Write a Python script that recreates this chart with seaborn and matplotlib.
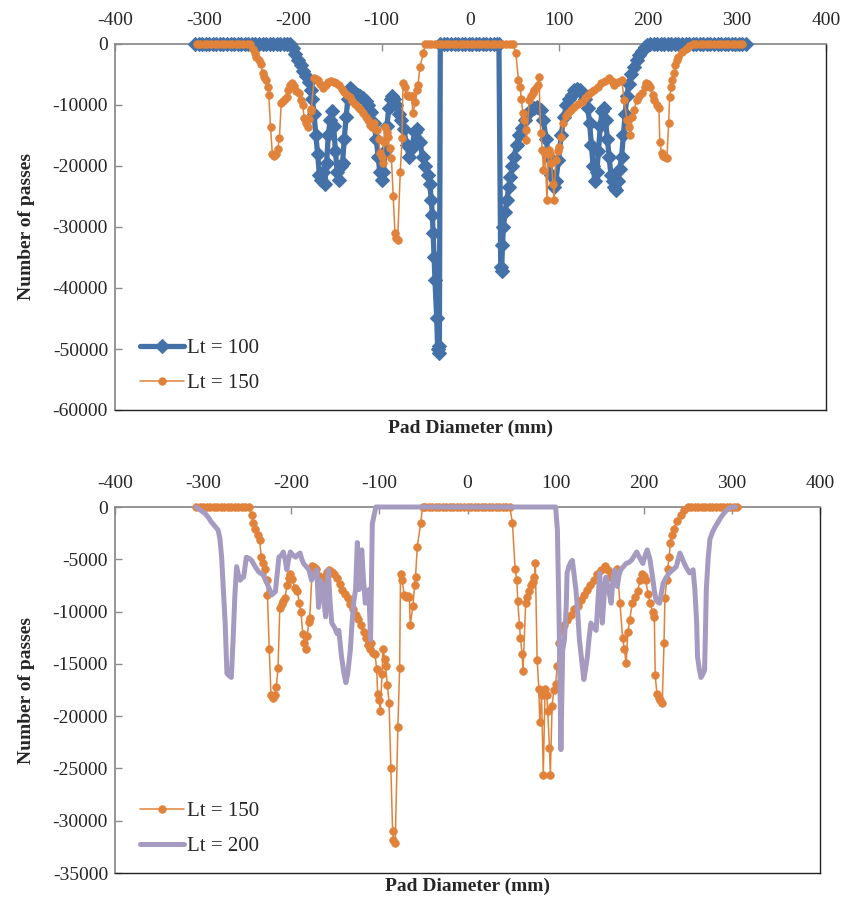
import matplotlib
matplotlib.use("Agg")
import matplotlib.pyplot as plt
import seaborn as sns

# ---- data ----
# Lt = 100 (top panel)
x_lt100 = [-310, -306, -302, -298, -294, -290, -286, -282, -278, -274, -270, -266, -262, -258,
           -254, -250, -246, -242, -238, -234, -230, -226, -222, -218, -214, -210, -206, -203,
           -200, -197, -194, -191, -188, -185, -182, -180, -178, -176, -174, -172, -170, -168,
           -166, -164, -162, -160, -158, -156, -154, -152, -150, -148, -146, -144, -142, -140,
           -138, -136, -133, -130, -127, -124, -121, -118, -115, -112, -109, -106, -104, -102,
           -100, -98, -96, -94, -92, -90, -88, -86, -84, -81, -78, -75, -72, -69, -66, -63,
           -60, -57, -54, -51, -48, -46, -44, -43, -42, -41, -40, -38, -37, -36, -35, -34,
           -30, -26, -22, -18, -14, -10, -6, -2, 2, 6, 10, 14, 18, 22, 26, 30, 32,
           34, 35, 36, 37, 39, 41, 43, 45, 47, 49, 52, 55, 58, 61, 64, 67, 71, 75, 79, 82,
           85, 88, 91, 94, 96, 99, 102, 105, 108, 111, 114, 117, 120, 123, 126, 129, 132,
           134, 136, 138, 140, 142, 144, 146, 148, 150, 152, 154, 156, 158, 160, 162, 164,
           166, 168, 170, 172, 174, 176, 178, 181, 184, 187, 190, 193, 196, 199, 202,
           206, 210, 214, 218, 222, 226, 230, 234, 238, 242, 246, 250, 254, 258, 262, 266,
           270, 274, 278, 282, 286, 290, 294, 298, 302, 306, 310]
y_lt100 = [0] * 28 + [
    -700, -1600, -2600, -3500, -4400, -5300, -6300, -7500, -9000, -11500, -15000, -18000,
    -21500, -22300, -21000, -23000, -19500, -15000, -12500, -11000, -13500, -17500, -21000,
    -22300, -20000, -19500, -15500, -12000, -9000, -7200, -7500, -8000, -8300, -8500, -8800,
    -9300, -10000, -11200, -13000, -15500, -18500, -21000, -22300, -21000, -17500, -13500,
    -10500, -9000, -8500, -9000, -10000, -11500, -12500, -14000, -16500, -18500, -17000,
    -14500, -14000, -16000, -18500, -20000, -21500, -23000, -25500, -28000, -31000, -35000,
    -38700, -45000, -50000, -50700, -49500] + [0] * 18 + [
    -36500, -37200, -33000, -30000, -27500, -25500, -23500, -21800, -20000, -18500, -16500,
    -15000, -13800, -12500, -11500, -11000, -10500, -10300, -10800, -12500, -15500, -18500,
    -21500, -23500, -22500, -19000, -15000, -12000, -10000, -9000, -8300, -7500, -7300,
    -7500, -8000, -9000, -10500, -13000, -16500, -20000, -22500, -21000, -17500, -13500,
    -11000, -10500, -12500, -15500, -18500, -21500, -22500, -23500, -24000, -22500, -20500,
    -18500, -15000, -11500, -8500, -6500, -5000, -3800, -2700, -1800, -1100, -500, -100,
    0] + [0] * 27

# Lt = 150 (both panels)
x_lt150 = [-308, -304, -300, -296, -292, -288, -284, -280, -276, -272, -268, -264, -260, -256,
           -252, -248, -245, -243, -241, -238, -236, -234, -232, -230, -228, -227, -225, -223,
           -221, -219, -217, -215, -213, -211, -209, -207, -205, -203, -201, -199, -196, -193,
           -191, -189, -187, -185, -183, -182, -180, -179, -176, -174, -172, -169, -166, -163,
           -160, -157, -154, -151, -148, -145, -142, -139, -136, -133, -130, -127, -124, -121,
           -118, -115, -113, -111, -109, -107, -105, -103, -102, -100, -99, -97, -96, -94, -93,
           -91, -89, -87, -85, -84, -82, -79, -77, -76, -74, -72, -70, -68, -66, -65, -62, -60,
           -59, -57, -53, -51, -48, -44, -40, -36, -32, -28, -24, -20, -16, -12, -8, -4, 0, 4,
           8, 12, 16, 20, 24, 28, 32, 36, 40, 44, 48, 51, 54, 56, 57, 59, 60, 62, 63, 66, 68,
           70, 72, 74, 76, 77, 79, 81, 82, 84, 86, 88, 90, 91, 93, 94, 96, 98, 100, 102, 104,
           107, 110, 113, 117, 121, 125, 129, 132, 136, 139, 143, 147, 151, 156, 159, 162, 166,
           170, 173, 176, 178, 180, 182, 184, 187, 190, 193, 196, 198, 200, 202, 205, 207, 210,
           212, 213, 215, 217, 219, 221, 223, 224, 226, 227, 229, 230, 232, 234, 238, 242, 246,
           250, 254, 258, 262, 266, 270, 274, 278, 282, 286, 290, 294, 298, 302, 306]
y_lt150 = [0] * 16 + [
    -800, -1500, -2100, -2700, -3200, -4800, -5400, -5900, -7000, -8400, -13600, -18000,
    -18300, -18000, -17200, -15400, -9700, -9300, -9000, -8700, -7500, -6800, -6400, -6900,
    -7700, -8000, -9200, -10000, -12100, -13000, -13600, -12300, -11000, -10600, -5600,
    -5700, -5900, -6600, -7200, -6700, -6200, -6000, -6200, -6400, -6800, -7400, -7900,
    -8300, -8700, -9300, -9800, -10300, -10700, -11300, -12000, -12500, -13200, -13600,
    -13000, -14000, -14100, -15500, -17900, -18500, -19500, -16000, -13600, -14500, -15200,
    -17000, -18700, -25000, -31000, -31800, -32100, -21000, -15400, -6400, -7000, -8400,
    -8600, -8500, -8600, -11300, -9500, -7500, -6700, -3800, -1500] + [0] * 26 + [
    -1500, -5900, -7000, -9000, -11300, -12500, -14100, -15700, -9200, -8600, -8000, -7500,
    -7200, -6700, -5400, -14600, -17400, -20600, -18000, -25600, -17400, -18000, -19500,
    -23000, -25600, -19000, -17500, -16900, -15200, -13000, -11800, -11300, -10800, -10300,
    -9800, -9500, -8900, -8400, -7900, -7500, -7000, -6400, -6000, -5600, -6000, -6700,
    -6300, -5900, -9200, -12500, -13600, -14900, -12000, -10800, -9200, -8600, -8000, -7000,
    -6400, -6600, -7000, -8300, -9200, -10000, -10500, -16100, -17900, -18300, -18500,
    -18700, -13000, -8700, -7000, -5900, -4800, -3400, -2700, -2100, -1300, -800, -300,
    0] + [0] * 14

# Lt = 200 (bottom panel)
x_lt200 = [-308, -303, -298, -294, -291, -287, -283, -281, -279, -277, -275, -273, -271, -268,
           -266, -264, -262, -260, -258, -256, -254, -251, -248, -245, -241, -237, -232, -229,
           -226, -222, -218, -216, -214, -211, -209, -207, -205, -203, -201, -198, -195, -193,
           -190, -188, -186, -183, -180, -177, -174, -171, -169, -167, -165, -163, -161, -159,
           -158, -156, -154, -151, -148, -146, -143, -140, -138, -136, -133, -131, -129, -127,
           -125, -123, -121, -120, -118, -116, -114, -112, -110, -108, -104, -50, 0, 50, 100,
           102, 104, 106, 108, 110, 112, 113, 115, 117, 119, 121, 123, 125, 127, 130, 132, 134,
           136, 138, 140, 143, 146, 148, 150, 152, 153, 155, 157, 160, 163, 165, 167, 170, 172,
           174, 177, 180, 183, 186, 189, 192, 195, 197, 199, 202, 204, 207, 210, 212, 214, 216,
           218, 220, 222, 225, 229, 233, 237, 239, 241, 244, 246, 249, 252, 254, 256, 258, 260,
           261, 263, 265, 267, 269, 270, 271, 273, 275, 278, 281, 284, 286, 290, 294, 297, 300,
           304]
y_lt200 = [0, -300, -600, -1000, -1400, -1800, -2200, -3000, -4800, -8000, -11100, -15900,
           -16100, -16300, -12700, -8500, -5700, -6500, -7000, -6800, -6700, -4800, -4900,
           -5100, -5700, -6200, -6500, -7000, -7600, -8400, -8100, -6500, -4800, -4600, -4300,
           -5000, -6000, -5000, -4300, -4600, -4800, -4600, -4400, -5000, -5400, -5700, -6000,
           -7000, -6500, -6000, -9600, -7000, -7300, -9000, -10500, -7500, -6000, -9000,
           -11100, -11500, -12100, -11800, -14300, -16000, -16800, -16000, -13700, -11100,
           -9000, -7900, -3400, -7900, -5500, -4100, -7000, -9200, -8500, -7900, -12700, -1600,
           0, 0, 0, 0, 0,
           -2200, -11100, -23200, -13700, -12700, -9600, -6300, -5700, -5300, -5100, -6500,
           -7900, -10000, -12700, -15000, -16500, -15500, -14300, -12500, -11100, -11500,
           -11800, -9000, -6300, -9000, -11100, -8500, -6700, -7800, -9200, -7000, -6000,
           -7600, -6500, -6000, -5700, -5400, -5300, -5100, -4700, -4300, -4800, -5100, -5400,
           -4500, -4100, -5000, -6700, -8000, -8900, -9100, -9200, -8200, -7300, -6800, -6300,
           -6000, -5700, -5000, -4400, -5000, -5400, -5900, -6300, -6200, -6000, -7900, -11000,
           -14300, -15500, -16300, -16000, -15600, -12000, -7900, -5000, -3100, -2400, -1900,
           -1500, -1200, -700, -300, -100, 0, 0]

x_ticks = [-400, -300, -200, -100, 0, 100, 200, 300, 400]

BLUE = "#4472A8"
ORANGE = "#E0823A"
PURPLE = "#A59BC0"
GRAY = "#8C8C8C"

sns.set_theme(style="white")
plt.rcParams["font.family"] = ["Liberation Serif", "DejaVu Serif"]
plt.rcParams["axes.unicode_minus"] = False

fig = plt.figure(figsize=(8.56, 9.0), dpi=100)
ax1 = fig.add_axes([115 / 856, 1 - 410 / 900, 711 / 856, 366 / 900])
ax2 = fig.add_axes([115 / 856, 1 - 873 / 900, 705 / 856, 366 / 900])

# top panel
sns.lineplot(x=x_lt100, y=y_lt100, ax=ax1, sort=False, estimator=None, color=BLUE,
             lw=3.8, marker="D", markersize=7.5, markeredgecolor=BLUE, markeredgewidth=0.8,
             label="Lt = 100", clip_on=False, zorder=3)
sns.lineplot(x=x_lt150, y=y_lt150, ax=ax1, sort=False, estimator=None, color=ORANGE,
             lw=1.1, marker="o", markersize=5.5, markeredgecolor=ORANGE, markeredgewidth=0.5,
             label="Lt = 150", clip_on=False, zorder=4)

# bottom panel
sns.lineplot(x=x_lt150, y=y_lt150, ax=ax2, sort=False, estimator=None, color=ORANGE,
             lw=1.1, marker="o", markersize=5.5, markeredgecolor=ORANGE, markeredgewidth=0.5,
             label="Lt = 150", clip_on=False, zorder=3)
sns.lineplot(x=x_lt200, y=y_lt200, ax=ax2, sort=False, estimator=None, color=PURPLE,
             lw=3.6, label="Lt = 200", clip_on=False, zorder=4,
             solid_capstyle="round", solid_joinstyle="round")

for ax, ymin, ystep, xl_y in [(ax1, -60000, 10000, -0.049), (ax2, -35000, 5000, -0.036)]:
    ax.set_xlim(-400, 400)
    ax.set_ylim(ymin, 0)
    ax.set_xticks(x_ticks)
    ax.set_yticks(list(range(ymin, 1, ystep)))
    ax.xaxis.tick_top()
    ax.tick_params(axis="x", direction="in", length=5, width=1, color=GRAY, pad=11,
                   labelsize=14, top=True, bottom=False)
    ax.tick_params(axis="y", direction="in", length=5, width=1, color=GRAY, pad=5,
                   labelsize=14, left=True)
    ax.spines["left"].set_color(GRAY)
    ax.spines["top"].set_color(GRAY)
    ax.spines["left"].set_linewidth(1.3)
    ax.spines["top"].set_linewidth(1.3)
    ax.spines["right"].set_color("#222222")
    ax.spines["bottom"].set_color("#222222")
    ax.spines["right"].set_linewidth(1.0)
    ax.spines["bottom"].set_linewidth(1.0)
    ax.set_xlabel("Pad Diameter (mm)", fontsize=14, fontweight="bold", va="center")
    ax.xaxis.set_label_coords(0.5, xl_y)
    ax.set_ylabel("Number of passes", fontsize=14, fontweight="bold", va="center")
    ax.yaxis.set_label_coords(-0.125, 0.5)
    ax.grid(False)
    ax.legend(loc="lower left", bbox_to_anchor=(0.012, 0.0), frameon=False, fontsize=15,
              handlelength=2.1, handletextpad=0.15, labelspacing=0.75, borderpad=0.3)

fig.savefig("out.png", dpi=100)
